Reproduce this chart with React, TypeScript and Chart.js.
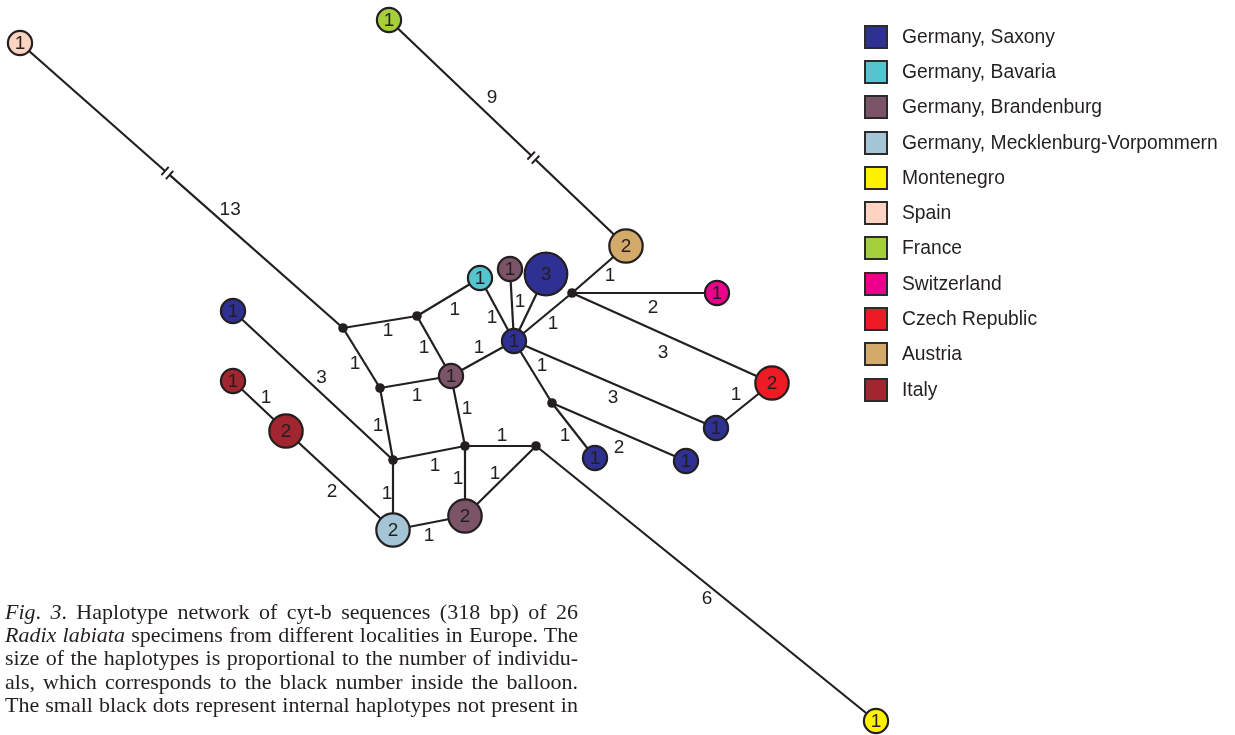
import React, { useEffect, useRef } from "react";
import { Chart, registerables } from "chart.js";

Chart.register(...registerables);

// ---- legend / regions ----
const regionNames = [
  "Germany, Saxony",
  "Germany, Bavaria",
  "Germany, Brandenburg",
  "Germany, Mecklenburg-Vorpommern",
  "Montenegro",
  "Spain",
  "France",
  "Switzerland",
  "Czech Republic",
  "Austria",
  "Italy",
];
const regionColors = [
  "#2e3192",
  "#54c5cf",
  "#7b5467",
  "#a3c5d5",
  "#fff200",
  "#fdd4c2",
  "#a5cf3a",
  "#ec008c",
  "#ed1c24",
  "#d3aa69",
  "#a2262f",
];

// ---- sampled haplotypes (layout position, individuals, region index) ----
const hapIds = ["spain", "france", "austria", "swiss", "czech", "sxcz", "sxr", "sxb", "hub", "sx3", "brt", "bav", "brm", "br2", "meck", "it2", "it1", "sxl", "mont"];
const hapX = [20, 389, 626, 717, 772, 716, 686, 595, 514, 546, 510, 480, 451, 465, 393, 286, 233, 233, 876];
const hapY = [43, 20, 246, 293, 383, 428, 461, 458, 341, 274, 269, 278, 376, 516, 530, 431, 381, 311, 721];
const hapCount = [1, 1, 2, 1, 2, 1, 1, 1, 1, 3, 1, 1, 1, 2, 2, 2, 1, 1, 1];
const hapRegion = [5, 6, 9, 7, 8, 0, 0, 0, 0, 0, 2, 1, 2, 2, 3, 10, 10, 0, 4];

// ---- internal (missing) haplotypes ----
const medIds = ["A", "B", "C", "D", "E", "F", "G", "H"];
const medX = [343, 417, 380, 393, 465, 536, 552, 572];
const medY = [328, 316, 388, 460, 446, 446, 403, 293];

// ---- mutational steps between haplotypes ----
const edgeFrom = ["spain", "france", "A", "A", "B", "B", "C", "C", "brm", "brm", "D", "D", "sxl", "E", "E", "F", "F", "meck", "it2", "it1", "bav", "brt", "sx3", "hub", "H", "H", "H", "hub", "hub", "czech", "G", "G"];
const edgeTo = ["A", "austria", "B", "C", "bav", "brm", "brm", "D", "hub", "E", "E", "meck", "D", "F", "br2", "br2", "mont", "br2", "meck", "it2", "hub", "hub", "hub", "H", "austria", "swiss", "czech", "G", "sxcz", "sxcz", "sxb", "sxr"];
const edgeSteps = [13, 9, 1, 1, 1, 1, 1, 1, 1, 1, 1, 1, 3, 1, 1, 1, 6, 1, 2, 1, 1, 1, 1, 1, 1, 2, 3, 1, 3, 1, 1, 2];
const edgeBroken = [0.456, 0.609, 0, 0, 0, 0, 0, 0, 0, 0, 0, 0, 0, 0, 0, 0, 0, 0, 0, 0, 0, 0, 0, 0, 0, 0, 0, 0, 0, 0, 0, 0];

// label placement along each edge: [fraction along edge, perpendicular offset px] (null = no label)
const edgeLabelPlacement: ([number, number] | null)[] = [
  [0.62, -15], [0.39, -15.4], [0.59, 9], [0.51, 8], [0.49, 13.6], [0.44, 9], [0.49, 13], [0.49, 8.5],
  [0.535, -11.8], [0.48, -9.4], [0.55, 12.9], [0.47, 6], [0.5, -12.4], [0.52, -11], [0.457, 7], [0.483, 9.6],
  [0.523, 10.7], [0.469, 11.8], [0.511, 12.8], [0.48, -11], [0.559, 7.9], [0.45, -8.2], null, [0.551, 11],
  [0.565, 11.4], [0.559, 14], [0.489, 16.5], [0.483, -11.3], [0.514, 12.3], [0.487, 14], [0.476, 9.5], [0.54, 13.3],
];

const captionLines = [
  [["i", "Fig"], ["", ". "], ["i", "3"], ["", ". Haplotype network of cyt-b sequences (318 bp) of 26"]],
  [["i", "Radix labiata"], ["", " specimens from different localities in Europe. The"]],
  [["", "size of the haplotypes is proportional to the number of individu-"]],
  [["", "als, which corresponds to the black number inside the balloon."]],
  [["", "The small black dots represent internal haplotypes not present in"]],
];

const INK = "#231f20";
const SANS = '"Liberation Sans", Arial, Helvetica, sans-serif';

function posOf(id: string): [number, number] {
  const i = hapIds.indexOf(id);
  if (i >= 0) return [hapX[i], hapY[i]];
  const j = medIds.indexOf(id);
  return [medX[j], medY[j]];
}

const networkText = {
  id: "networkText",
  afterDatasetsDraw(chart: any) {
    const { ctx } = chart;
    const sx = chart.scales.x;
    const sy = chart.scales.y;
    const pix = (id: string) => {
      const p = posOf(id);
      return [sx.getPixelForValue(p[0]), sy.getPixelForValue(p[1])];
    };
    ctx.save();
    ctx.strokeStyle = INK;
    ctx.lineWidth = 2;
    // break marks
    edgeFrom.forEach((f, i) => {
      const t = edgeBroken[i];
      if (!t) return;
      const a = pix(f);
      const b = pix(edgeTo[i]);
      const dx = b[0] - a[0];
      const dy = b[1] - a[1];
      const L = Math.hypot(dx, dy);
      const ux = dx / L, uy = dy / L;
      const nx = -uy, ny = ux;
      [-3, 3].forEach((s) => {
        const cx = a[0] + dx * t + ux * s;
        const cy = a[1] + dy * t + uy * s;
        ctx.beginPath();
        ctx.moveTo(cx - nx * 5.5, cy - ny * 5.5);
        ctx.lineTo(cx + nx * 5.5, cy + ny * 5.5);
        ctx.stroke();
      });
    });
    ctx.fillStyle = INK;
    ctx.font = "19px " + SANS;
    ctx.textAlign = "center";
    ctx.textBaseline = "middle";
    // step labels
    edgeFrom.forEach((f, i) => {
      const pl = edgeLabelPlacement[i];
      if (!pl) return;
      const a = pix(f);
      const b = pix(edgeTo[i]);
      const dx = b[0] - a[0];
      const dy = b[1] - a[1];
      const L = Math.hypot(dx, dy);
      const nx = -dy / L, ny = dx / L;
      const x = a[0] + dx * pl[0] + nx * pl[1];
      const y = a[1] + dy * pl[0] + ny * pl[1];
      ctx.fillText(String(edgeSteps[i]), x, y + 1);
    });
    // counts inside balloons
    hapIds.forEach((id, i) => {
      const p = pix(id);
      ctx.fillText(String(hapCount[i]), p[0], p[1] + 1);
    });
    ctx.restore();
  },
};

export default function App() {
  const ref = useRef<HTMLCanvasElement>(null);
  useEffect(() => {
    if (!ref.current) return;
    const edgeSets: any[] = [];
    edgeFrom.forEach((f, i) => {
      const a = posOf(f);
      const b = posOf(edgeTo[i]);
      const t = edgeBroken[i];
      let segs: number[][][] = [[a, b]];
      if (t) {
        const dx = b[0] - a[0], dy = b[1] - a[1];
        const L = Math.hypot(dx, dy);
        const g = 3 / L;
        segs = [
          [a, [a[0] + dx * (t - g), a[1] + dy * (t - g)]],
          [[a[0] + dx * (t + g), a[1] + dy * (t + g)], b],
        ];
      }
      segs.forEach((s) => {
        edgeSets.push({
          type: "line",
          data: s.map((p) => ({ x: p[0], y: p[1] })),
          borderColor: INK,
          borderWidth: 2.2,
          pointRadius: 0,
          fill: false,
          order: 3,
        });
      });
    });
    const chart = new Chart(ref.current, {
      type: "scatter",
      data: {
        datasets: [
          {
            type: "bubble",
            data: hapIds.map((id, i) => ({ x: hapX[i], y: hapY[i], r: 7.5 + 4.6 * hapCount[i] })),
            backgroundColor: hapRegion.map((r) => regionColors[r]),
            borderColor: INK,
            borderWidth: 2.2,
            order: 1,
            clip: false,
          } as any,
          {
            type: "scatter",
            data: medIds.map((id, i) => ({ x: medX[i], y: medY[i] })),
            backgroundColor: INK,
            borderWidth: 0,
            pointRadius: 4.8,
            order: 2,
          },
          ...edgeSets,
        ],
      },
      options: {
        animation: false,
        responsive: false,
        events: [],
        layout: { padding: 0, autoPadding: false },
        plugins: { legend: { display: false }, tooltip: { enabled: false } },
        scales: {
          x: { type: "linear", min: 0, max: 1235, display: false },
          y: { type: "linear", min: 0, max: 735, reverse: true, display: false },
        },
      } as any,
      plugins: [networkText],
    });
    return () => chart.destroy();
  }, []);

  return (
    <div style={{ position: "absolute", left: 0, top: 0, width: 1235, height: 735, overflow: "hidden", background: "#fff" }}>
      <canvas ref={ref} width={1235} height={735} style={{ position: "absolute", left: 0, top: 0 }} />
      <div style={{ position: "absolute", left: 864, top: 19, fontFamily: SANS, fontSize: 19.3, color: INK }}>
        {regionNames.map((name, i) => (
          <div key={name} style={{ display: "flex", alignItems: "center", height: 35.3 }}>
            <div
              style={{
                width: 20,
                height: 20,
                background: regionColors[i],
                border: "2px solid #2b2b2b",
                marginRight: 14,
                flex: "none",
              }}
            />
            <span style={{ lineHeight: "20px", whiteSpace: "nowrap" }}>{name}</span>
          </div>
        ))}
      </div>
      <div
        style={{
          position: "absolute",
          left: 5,
          top: 600,
          width: 573,
          fontFamily: '"Liberation Serif", "Times New Roman", serif',
          fontSize: 22,
          lineHeight: "23.2px",
          color: INK,
        }}
      >
        {captionLines.map((line, li) => (
          <div key={li} style={{ textAlign: "justify", textAlignLast: "justify" as any }}>
            {line.map((part, pi) => (part[0] === "i" ? <i key={pi}>{part[1]}</i> : <span key={pi}>{part[1]}</span>))}
          </div>
        ))}
      </div>
    </div>
  );
}
